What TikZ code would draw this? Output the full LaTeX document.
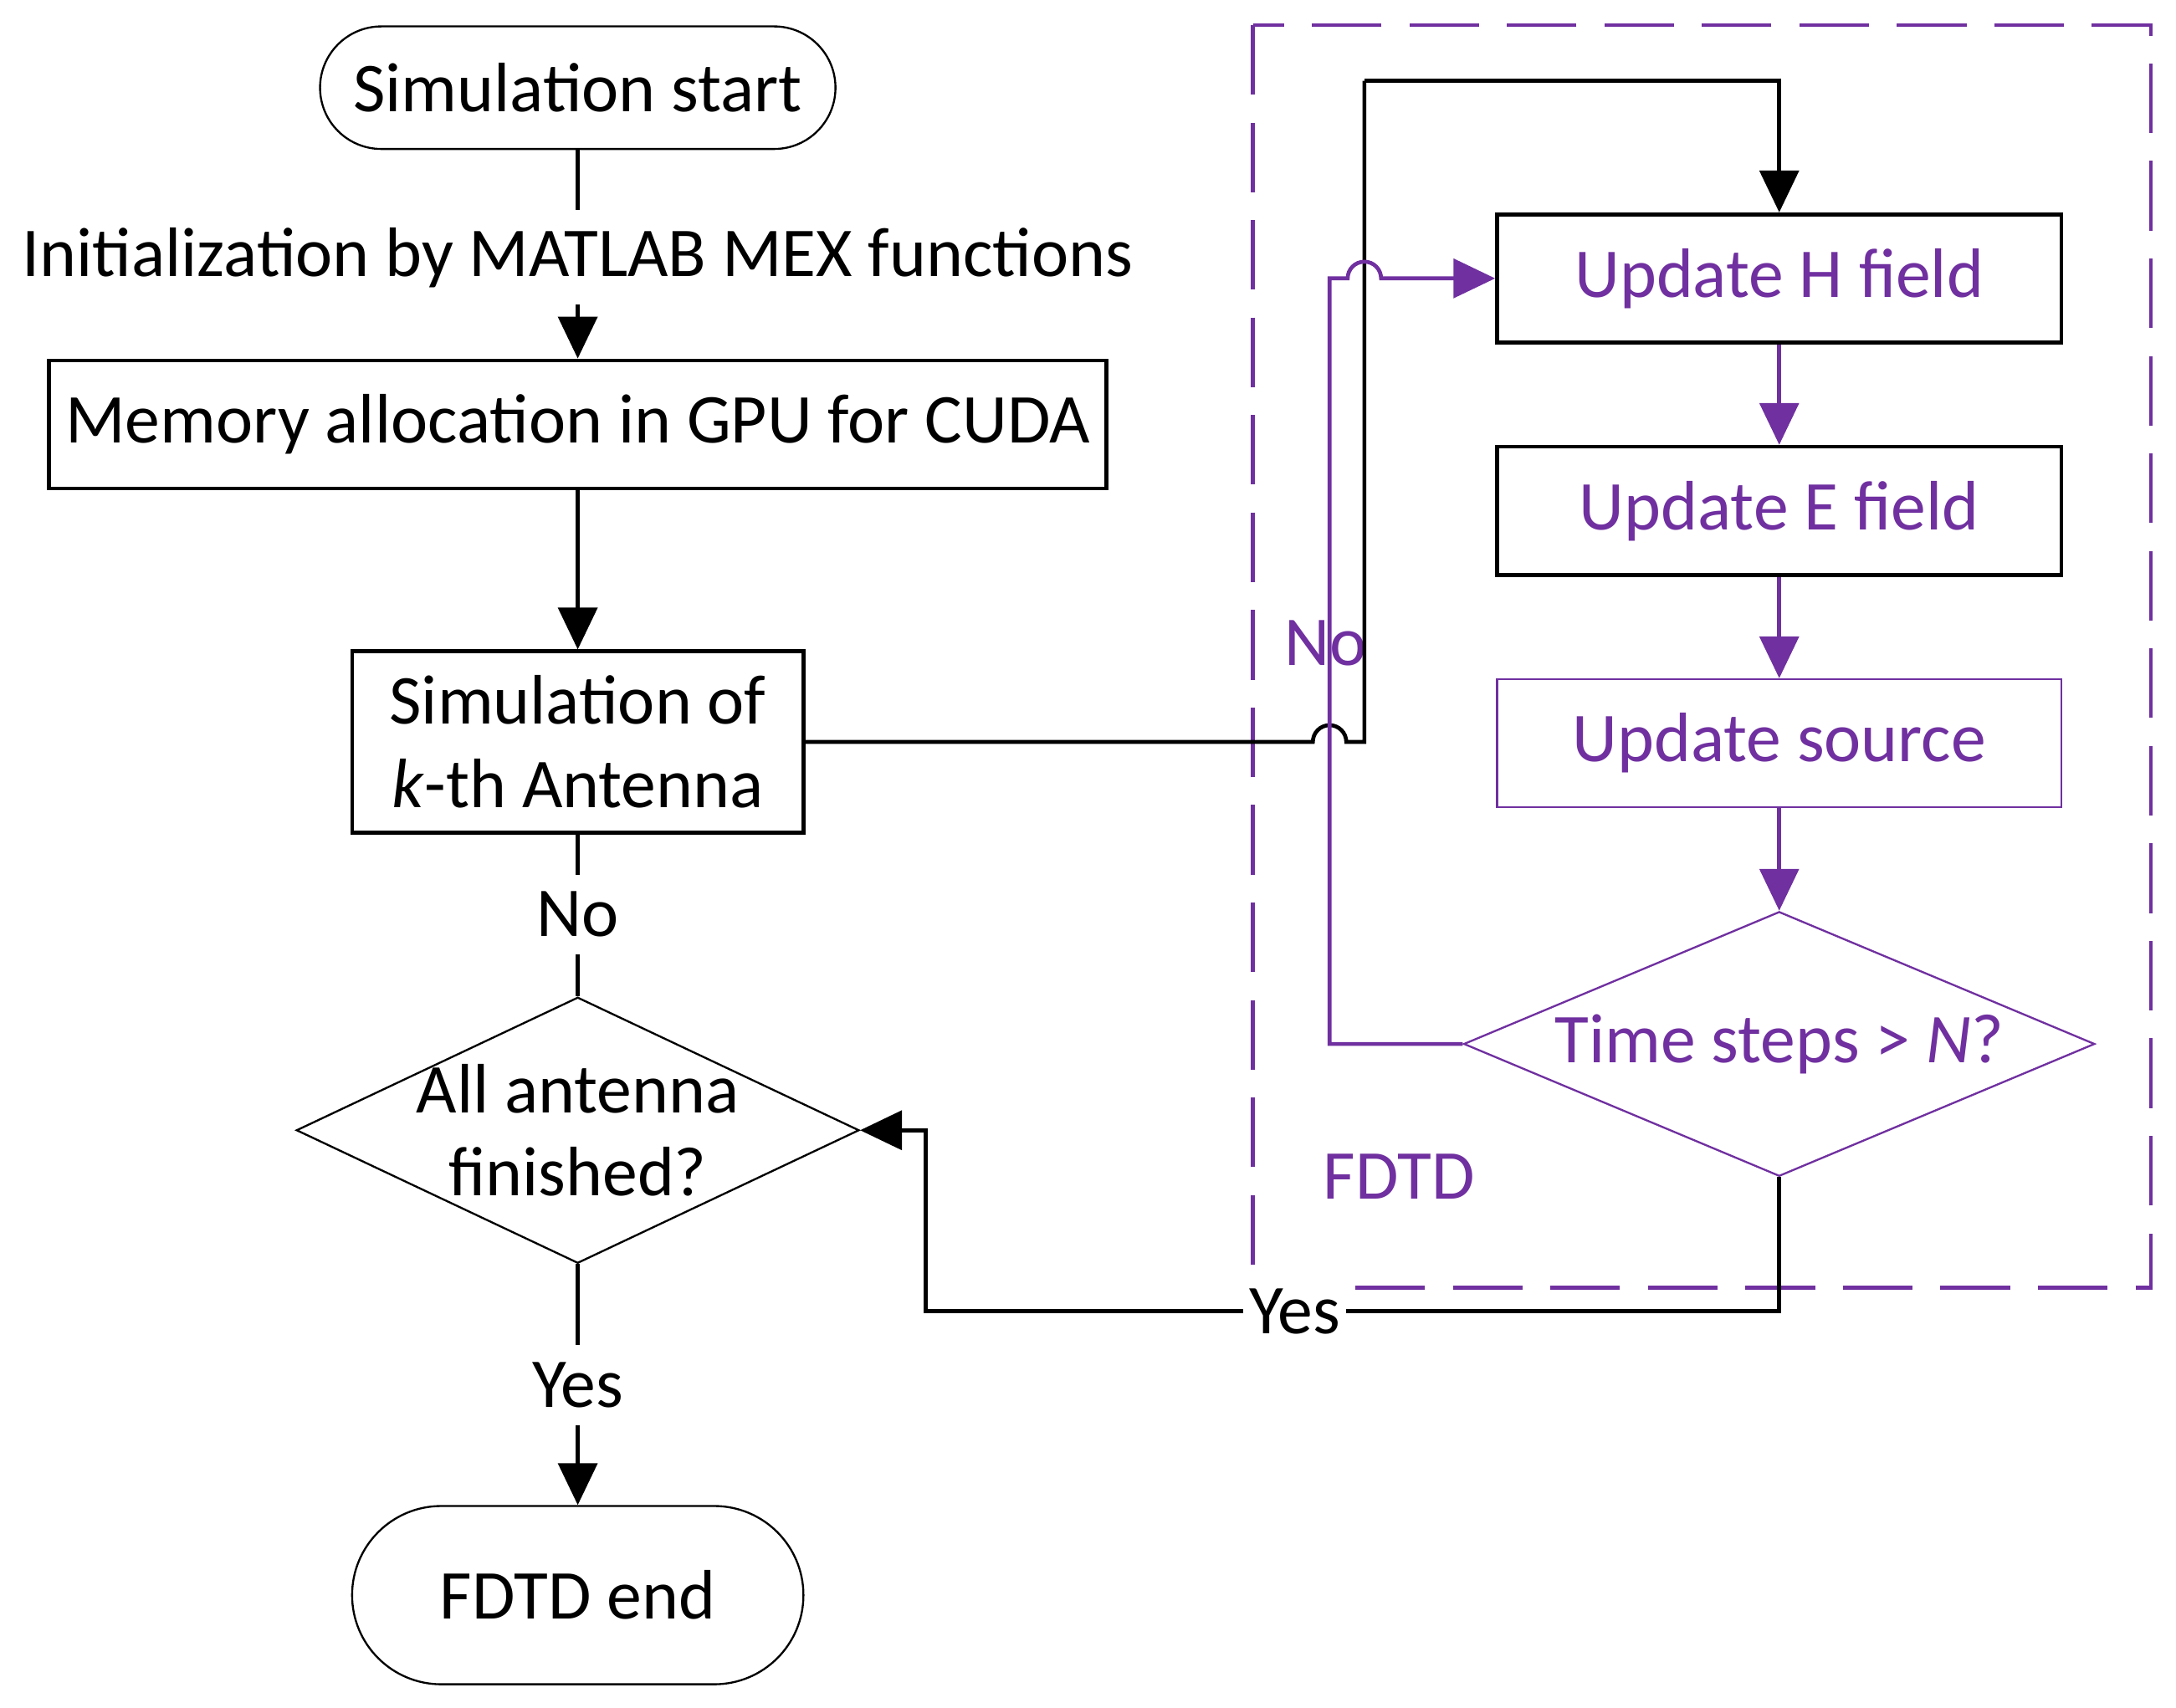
\documentclass[tikz,border=0pt]{standalone}
\usepackage{fontspec}
\setmainfont{Carlito}
\usetikzlibrary{shapes.geometric, arrows.meta}
\definecolor{fdtdpurple}{RGB}{112,48,160}

\begin{document}
\begin{tikzpicture}[x=0.01cm, y=-0.01cm, font=\fontsize{14.3}{17}\selectfont,
    terminal/.style={draw=black, rounded corners=0.44cm, minimum width=3.7cm, minimum height=0.88cm},
    process/.style={draw=black, thick, minimum height=0.92cm},
    fdtdbox/.style={draw=black, thick, minimum width=4.05cm, minimum height=0.92cm, text=fdtdpurple},
    decision/.style={draw=black, diamond, aspect=2.1, inner sep=-0.25cm},
    flow/.style={thick, -{Triangle[length=0.3cm, width=0.28cm]}},
    loop/.style={thick, draw=fdtdpurple, -{Triangle[length=0.3cm, width=0.28cm]}}]
  \useasboundingbox (0,0) rectangle (1563,1227);
  % FDTD frame
  \draw[fdtdpurple, thick, dash pattern=on 0.5cm off 0.2cm] (900,18) rectangle (1545,925);
  \node (fdtd) [text=fdtdpurple] at (1005,845) {FDTD};
  % left column
  \node (start) [terminal] at (415,63) {Simulation start};
  \node (init) at (415,185) {Initialization by MATLAB MEX functions};
  \node (mem) [process, minimum width=7.58cm] at (415,305) {Memory allocation in GPU for CUDA};
  \node (sim) [process, minimum width=3.24cm, minimum height=1.3cm, align=center] at (415,533) {Simulation of\\\textit{k}-th Antenna};
  \node (no1) at (415,657) {No};
  \node (all) [decision, minimum width=4.04cm, minimum height=1.91cm, align=center] at (415,812) {All antenna\\finished?};
  \node (yes1) at (415,995) {Yes};
  \node (stop) [terminal, minimum width=3.24cm, minimum height=1.28cm, rounded corners=0.64cm] at (415,1146) {FDTD end};
  % right column
  \node (updh) [fdtdbox] at (1278,200) {Update H field};
  \node (upde) [fdtdbox] at (1278,367) {Update E field};
  \node (upds) [fdtdbox, draw=fdtdpurple, thin] at (1278,534) {Update source};
  \node (steps) [decision, draw=fdtdpurple, minimum width=4.53cm, minimum height=1.9cm, text=fdtdpurple] at (1278,750) {Time steps > \textit{N}?};
  \node (no2) [text=fdtdpurple] at (952,462) {No};
  \node (yes2) [fill=white, inner sep=1pt] at (930,942) {Yes};
  \coordinate (jump) at (980,58);
  % connectors
  \draw[thick] (start) -- (init);
  \draw[flow] (init) -- (mem);
  \draw[flow] (mem) -- (sim);
  \draw[thick] (sim) -- (no1) -- (all);
  \draw[thick] (all) -- (yes1);
  \draw[flow] (yes1) -- (stop);
  \draw[thick] (sim.east) -- (943,533) arc[start angle=180, end angle=0, radius=0.12cm]
    -- (980,533) -- (jump);
  \draw[flow] (jump) -| (updh.north);
  \draw[loop] (updh) -- (upde);
  \draw[loop] (upde) -- (upds);
  \draw[loop] (upds) -- (steps);
  \draw[loop] (steps.west) -- (955,750) -- (955,200) -- (968,200)
    arc[start angle=180, end angle=0, radius=0.12cm] -- (updh.west);
  \draw[thick] (steps.south) -- (1278,942) -- (yes2.east);
  \draw[flow] (yes2.west) -- (665,942) |- (all.east);
\end{tikzpicture}
\end{document}
